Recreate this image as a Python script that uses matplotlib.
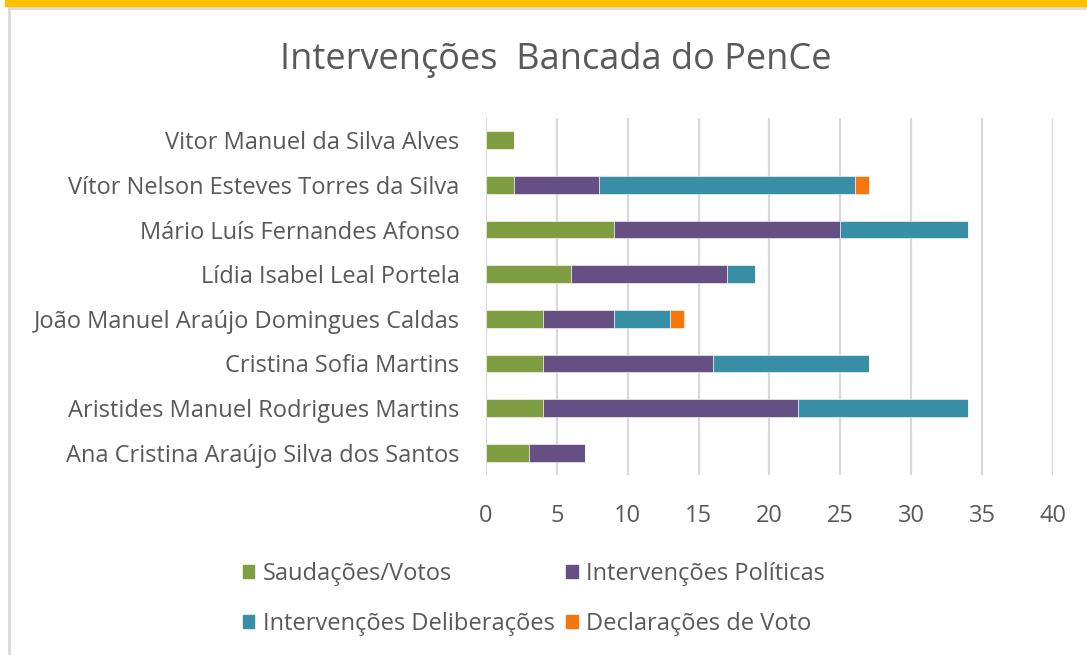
import matplotlib.pyplot as plt
import numpy as np
from matplotlib.patches import Rectangle
from matplotlib.lines import Line2D

plt.rcParams['font.family'] = ['Open Sans', 'DejaVu Sans']

# Data (bottom to top, as drawn)
deputados = [
    'Ana Cristina Araújo Silva dos Santos',
    'Aristides Manuel Rodrigues Martins',
    'Cristina Sofia Martins',
    'João Manuel Araújo Domingues Caldas',
    'Lídia Isabel Leal Portela',
    'Mário Luís Fernandes Afonso',
    'Vítor Nelson Esteves Torres da Silva',
    'Vitor Manuel da Silva Alves',
]
saudacoes = [3, 4, 4, 4, 6, 9, 2, 2]
politicas = [4, 18, 12, 5, 11, 16, 6, 0]
deliberacoes = [0, 12, 11, 4, 2, 9, 18, 0]
declaracoes = [0, 0, 0, 1, 0, 0, 1, 0]

series_names = ['Saudações/Votos', 'Intervenções Políticas',
                'Intervenções Deliberações', 'Declarações de Voto']
colors = ['#7F9D41', '#664F82', '#378EA5', '#F5760C']
x_ticks = [0, 5, 10, 15, 20, 25, 30, 35, 40]

TEXT = '#595959'

fig = plt.figure(figsize=(10.87, 6.55), dpi=100)
ax = fig.add_axes([486 / 1087, 1 - 475 / 655, (1053 - 486) / 1087, (475 - 118) / 655])

y = np.arange(len(deputados))
left = np.zeros(len(deputados))
for vals, c, name in zip([saudacoes, politicas, deliberacoes, declaracoes], colors, series_names):
    vals = np.array(vals, dtype=float)
    ax.barh(y, vals, left=left, height=0.4, color=c, edgecolor='white',
            linewidth=0.4, label=name, zorder=3)
    left += vals

ax.set_xlim(0, 40)
ax.set_ylim(-0.5, len(deputados) - 0.5)
ax.set_xticks(x_ticks)
ax.set_yticks(y)
ax.set_yticklabels(deputados)
ax.tick_params(axis='both', length=0, colors=TEXT, labelsize=17)
ax.tick_params(axis='y', pad=19)
ax.tick_params(axis='x', pad=21)
for s in ax.spines.values():
    s.set_visible(False)
ax.xaxis.grid(True, color='#D9D9D9', linewidth=1.6, zorder=0)
ax.yaxis.grid(False)

fig.text(556 / 1087, 1 - 60 / 655, 'Intervenções  Bancada do PenCe', ha='center', va='center',
         fontsize=26, color=TEXT)

# Legend: column 1 = Saudações, Deliberações; column 2 = Políticas, Declarações
order = [0, 2, 1, 3]
handles = [Rectangle((0, 0), 1, 1, color=colors[i]) for i in order]
labels = [series_names[i] for i in order]
leg = fig.legend(handles, labels, ncol=2, loc='center', bbox_to_anchor=(534 / 1087, 1 - 599 / 655),
                 frameon=False, fontsize=17, handlelength=0.5, handleheight=0.5,
                 handletextpad=0.35, columnspacing=0.5, labelspacing=1.1)
for t in leg.get_texts():
    t.set_color(TEXT)

# Frame decorations: yellow top band and light grey border
fig.patches.append(Rectangle((5 / 1087, 1 - 6 / 655), 1, 6 / 655, transform=fig.transFigure,
                             color='#FFC000', zorder=5))
fig.lines.append(Line2D([9 / 1087, 9 / 1087], [0, 1 - 8 / 655], transform=fig.transFigure,
                        color='#D9D9D9', linewidth=2))
fig.lines.append(Line2D([9 / 1087, 1], [1 - 8 / 655, 1 - 8 / 655], transform=fig.transFigure,
                        color='#D9D9D9', linewidth=2))

fig.savefig('out.png', dpi=100)
